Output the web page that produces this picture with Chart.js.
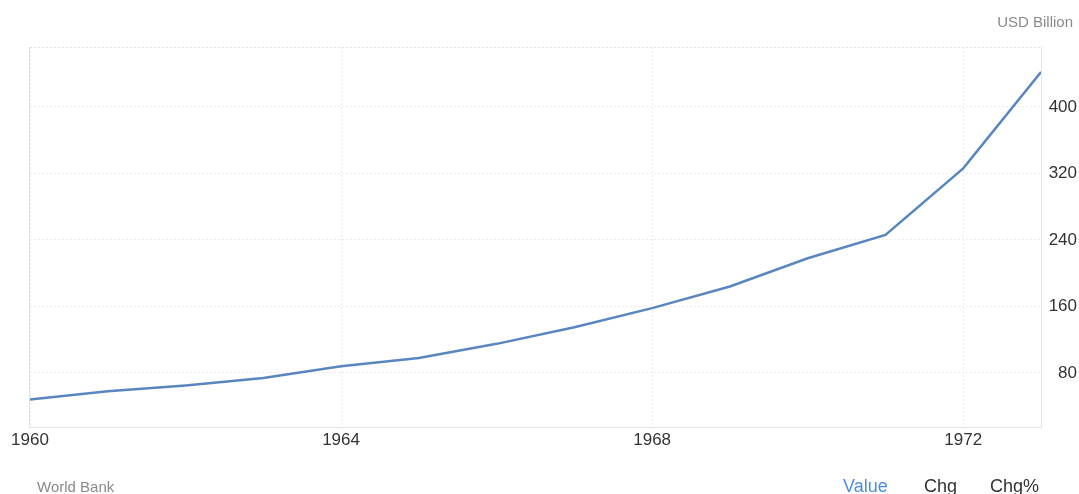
<!DOCTYPE html>
<html lang="en">
<head>
  <meta charset="UTF-8" />
  <title>GDP</title>
  <script src="https://cdn.jsdelivr.net/npm/chart.js"></script>
  <style>
    html, body { margin: 0; padding: 0; background: #fff; overflow: hidden; }
    body { width: 1079px; height: 494px; position: relative; font-family: "Liberation Sans", Arial, sans-serif; }
    #wrap { position: absolute; left: 0; top: 0; width: 1079px; height: 494px; }
    .lbl { position: absolute; white-space: nowrap; }
    #unit { right: 6px; top: 13px; font-size: 15px; color: #8a8a8a; }
    #src { left: 37px; top: 478px; font-size: 15px; color: #8a8a8a; }
    .tab { top: 476px; font-size: 18px; color: #333; }
  </style>
</head>
<body>
<div id="wrap"><canvas id="chartCanvas"></canvas></div>
<div class="lbl" id="unit">USD Billion</div>
<div class="lbl" id="src">World Bank</div>
<div class="lbl tab" style="left:843px;color:#4a8fd8">Value</div>
<div class="lbl tab" style="left:924px">Chg</div>
<div class="lbl tab" style="left:990px">Chg%</div>

<script>
// values
const years = [1960, 1961, 1962, 1963, 1964, 1965, 1966, 1967, 1968, 1969, 1970, 1971, 1972, 1973];
const gdp = [48, 58, 65, 74, 88, 98, 115, 135, 158, 184, 218, 246, 326, 442];
const xTicks = [1960, 1964, 1968, 1972];
const yTicks = [80, 160, 240, 320, 400];

// outline of the plot area: solid left/bottom/right, dotted top
const frame = {
  id: 'frame',
  beforeDatasetsDraw(chart) {
    const { ctx, chartArea: a } = chart;
    ctx.save();
    ctx.strokeStyle = '#e3e3e3';
    ctx.lineWidth = 1;
    ctx.beginPath();
    ctx.moveTo(a.left - 0.5, a.top);
    ctx.lineTo(a.left - 0.5, a.bottom + 0.5);
    ctx.lineTo(a.right + 0.5, a.bottom + 0.5);
    ctx.lineTo(a.right + 0.5, a.top);
    ctx.stroke();
    ctx.setLineDash([2, 2]);
    ctx.beginPath();
    ctx.moveTo(a.left, a.top + 0.5);
    ctx.lineTo(a.right, a.top + 0.5);
    ctx.stroke();
    ctx.restore();
  }
};

new Chart(document.getElementById('chartCanvas'), {
  type: 'line',
  data: {
    datasets: [{
      data: years.map((y, i) => ({ x: y, y: gdp[i] })),
      borderColor: '#5a86c0',
      borderWidth: 2.5,
      pointRadius: 0,
      tension: 0,
      fill: false
    }]
  },
  options: {
    responsive: true,
    maintainAspectRatio: false,
    animation: false,
    layout: { padding: { left: 30, top: 47, right: 2, bottom: 0 } },
    plugins: { legend: { display: false }, tooltip: { enabled: false } },
    scales: {
      x: {
        type: 'linear',
        min: 1960,
        max: 1973,
        afterBuildTicks: s => { s.ticks = xTicks.map(v => ({ value: v })); },
        afterFit: s => { s.height = 67; },
        grid: { color: '#ececec', drawTicks: false, tickLength: 0 },
        border: { display: false, dash: [2, 2] },
        ticks: {
          color: '#333',
          padding: 3,
          maxRotation: 0,
          font: { family: 'Liberation Sans', size: 17 },
          callback: v => String(v)
        }
      },
      y: {
        position: 'right',
        min: 15,
        max: 472,
        afterBuildTicks: s => { s.ticks = yTicks.map(v => ({ value: v })); },
        afterFit: s => { s.width = 36; },
        grid: { color: '#ececec', drawTicks: false, tickLength: 0 },
        border: { display: false, dash: [2, 2] },
        ticks: {
          color: '#333',
          crossAlign: 'far',
          padding: 4,
          font: { family: 'Liberation Sans', size: 17 }
        }
      }
    }
  },
  plugins: [frame]
});
</script>
</body>
</html>
